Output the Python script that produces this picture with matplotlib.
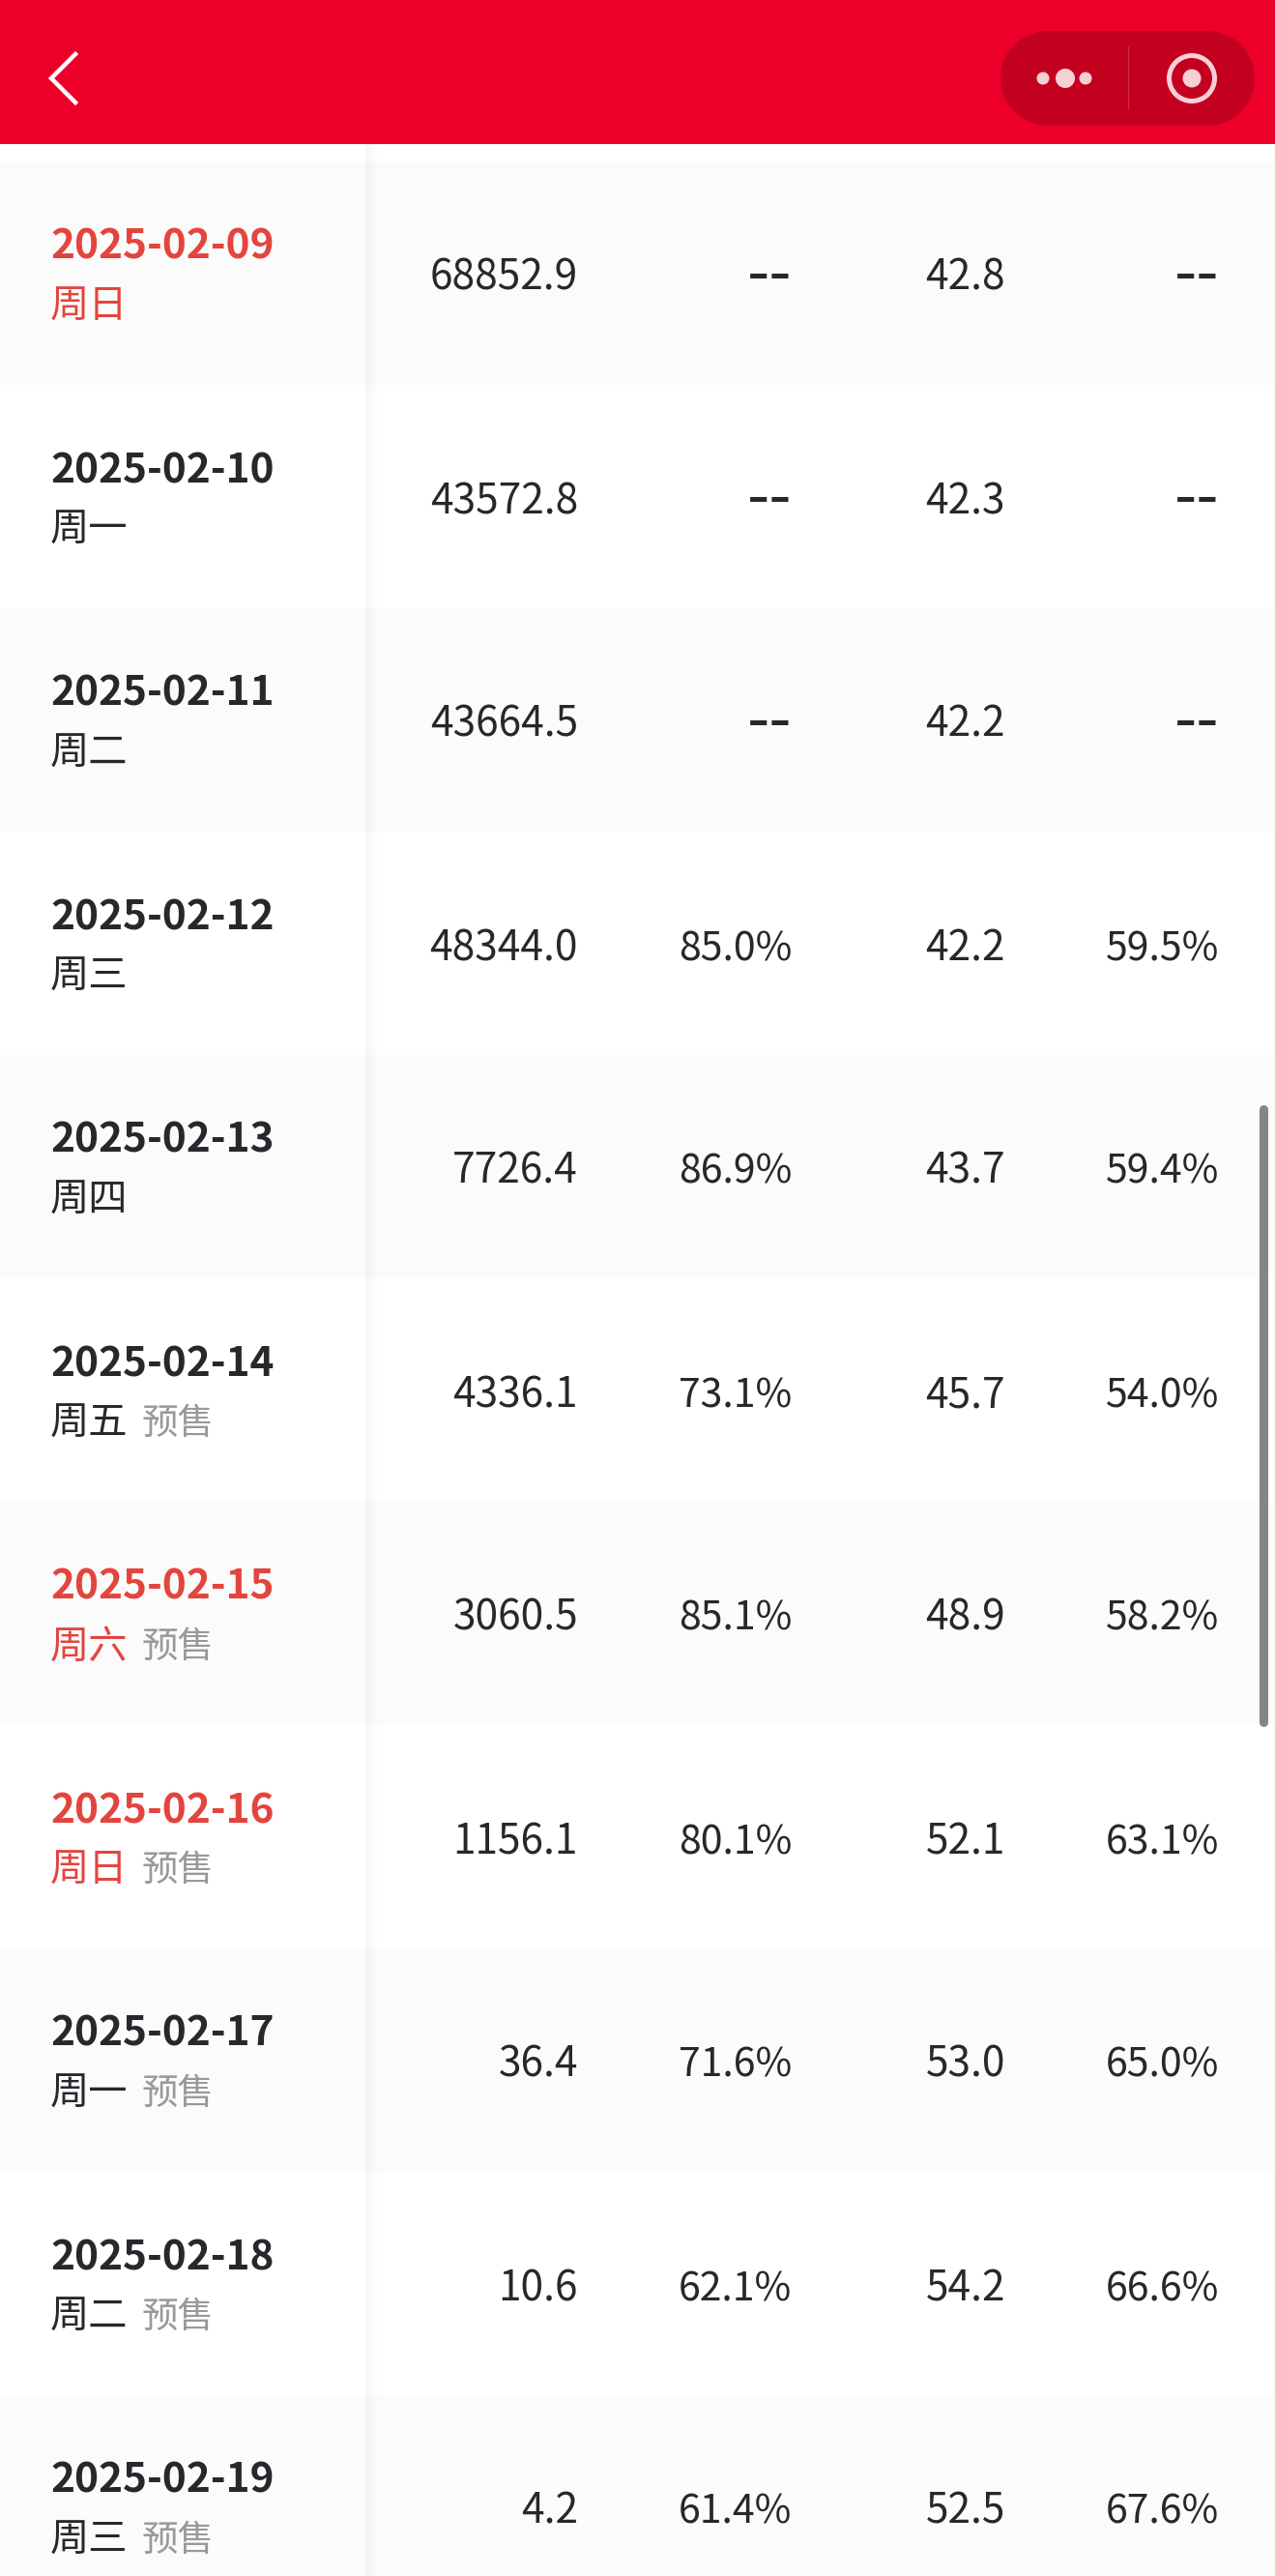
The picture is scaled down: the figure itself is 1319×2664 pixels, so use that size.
import matplotlib
matplotlib.use('Agg')
import matplotlib.pyplot as plt
from matplotlib.patches import Rectangle, Circle

CJK = ['Noto Sans CJK SC', 'DejaVu Sans']
plt.rcParams['font.family'] = CJK

# table data, None is shown as --
dates = ['2025-02-09', '2025-02-10', '2025-02-11', '2025-02-12', '2025-02-13', '2025-02-14',
         '2025-02-15', '2025-02-16', '2025-02-17', '2025-02-18', '2025-02-19']
weekdays = ['周日', '周一', '周二', '周三', '周四', '周五', '周六', '周日', '周一', '周二', '周三']
presale = [False, False, False, False, False, True, True, True, True, True, True]
box_office = [68852.9, 43572.8, 43664.5, 48344.0, 7726.4, 4336.1, 3060.5, 1156.1, 36.4, 10.6, 4.2]
share = [None, None, None, 85.0, 86.9, 73.1, 85.1, 80.1, 71.6, 62.1, 61.4]
avg_price = [42.8, 42.3, 42.2, 42.2, 43.7, 45.7, 48.9, 52.1, 53.0, 54.2, 52.5]
seat_rate = [None, None, None, 59.5, 59.4, 54.0, 58.2, 63.1, 65.0, 66.6, 67.6]

W, H = 1319, 2664
ROW_H = 231
ROW_TOP = 167
HEADER_H = 148.5
DARK = '#26282C'
RED = '#E4443E'
GREY = '#999999'
HEADER_RED = '#EC0029'
PILL = '#C4001F'
ICON = '#F6CFD7'

fig = plt.figure(figsize=(W / 100, H / 100), dpi=100, facecolor='white')
ax = fig.add_axes([0, 0, 1, 1])
ax.set_xlim(0, W)
ax.set_ylim(H, 0)
ax.axis('off')


def pct_cell(x, y, v):
    if v is None:
        # the dashes are wider than the font's hyphen
        ax.text(x, y + 4, '--', color=DARK, fontsize=48, va='baseline', ha='right', zorder=3)
    else:
        ax.text(x, y, f'{v:.1f}%', color=DARK, fontsize=29.5, va='baseline', ha='right', zorder=3)


# rows
for i, date in enumerate(dates):
    top = ROW_TOP + i * ROW_H
    if i % 2 == 0:
        ax.add_patch(Rectangle((0, top), W, ROW_H, fc='#FBFBFB', ec='none', zorder=1))

    is_weekend = weekdays[i] in ('周六', '周日')
    color = RED if is_weekend else DARK
    ax.text(52, top + 101, date, color=color, fontsize=30.5, fontweight='bold', va='baseline', ha='left', zorder=3)
    ax.text(52, top + 150, weekdays[i], color=color, fontsize=29, va='center', ha='left', zorder=3)
    if presale[i]:
        ax.text(147, top + 150, '预售', color=GREY, fontsize=27, va='center', ha='left', zorder=3)

    base = top + 133
    ax.text(598, base, f'{box_office[i]:.1f}', color=DARK, fontsize=30.5, va='baseline', ha='right', zorder=3)
    pct_cell(819, base, share[i])
    ax.text(1040, base, f'{avg_price[i]:.1f}', color=DARK, fontsize=30.5, va='baseline', ha='right', zorder=3)
    pct_cell(1261, base, seat_rate[i])

# shadow of the fixed first column
for k in range(16):
    ax.add_patch(Rectangle((378 + k, HEADER_H), 1, H - HEADER_H, fc='black', alpha=0.03 * (1 - k / 16),
                           ec='none', zorder=2))

# scrollbar
ax.plot([1307, 1307], [1147, 1781], color='#858585', lw=6.5, solid_capstyle='round', zorder=4)

# header
ax.add_patch(Rectangle((0, 0), W, HEADER_H, fc=HEADER_RED, ec='none', zorder=5))
ax.plot([78, 53, 78], [56, 81, 106], color='white', lw=3.2, solid_joinstyle='miter', zorder=6)
ax.add_patch(Rectangle((1084, 32), 165, 98, fc=PILL, ec='none', zorder=6))
ax.add_patch(Circle((1084, 81), 49, fc=PILL, ec='none', zorder=6))
ax.add_patch(Circle((1249, 81), 49, fc=PILL, ec='none', zorder=6))
ax.plot([1167, 1167], [48, 112], color='#D62C45', lw=0.8, zorder=7)
for cx, r in [(1079, 6.5), (1102, 10), (1123, 6.5)]:
    ax.add_patch(Circle((cx, 81), r, fc=ICON, ec='none', zorder=7))
ax.add_patch(Circle((1233, 81), 23.5, fc='none', ec=ICON, lw=3.6, zorder=7))
ax.add_patch(Circle((1233, 81), 9.5, fc=ICON, ec='none', zorder=7))

fig.savefig('out.png', dpi=100, facecolor='white')
